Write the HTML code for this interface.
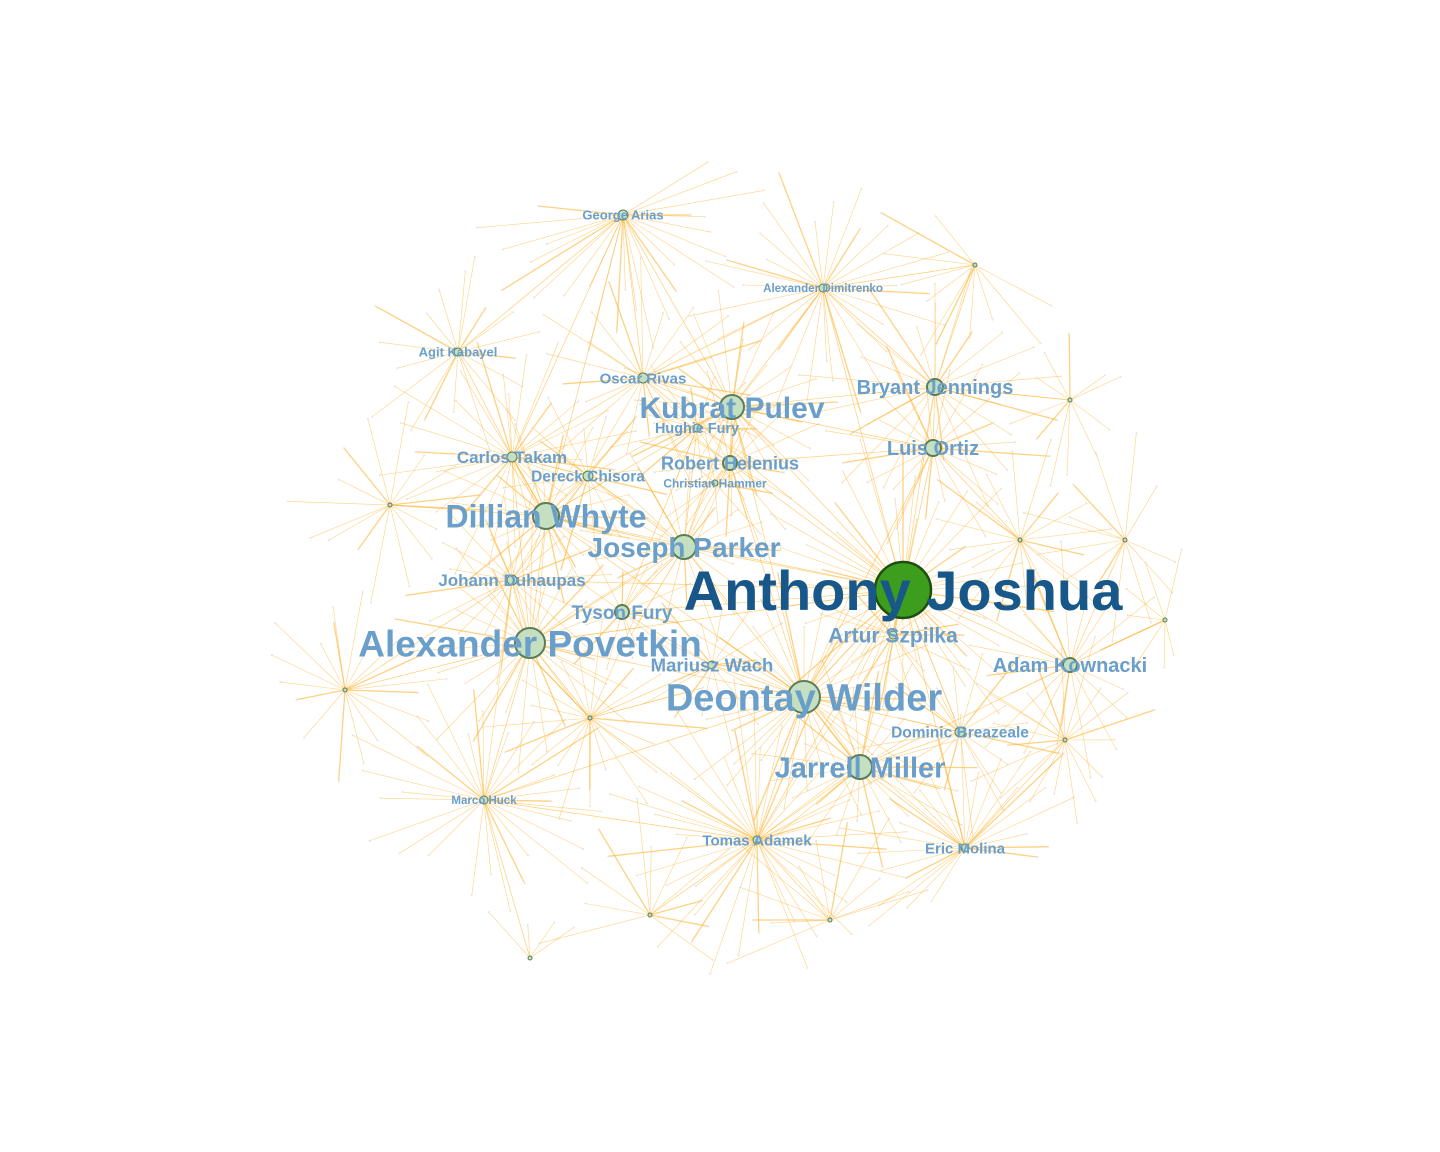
<!DOCTYPE html>
<html><head><meta charset="utf-8"><style>
html,body{margin:0;padding:0;background:#fff;width:1440px;height:1152px;overflow:hidden}
svg{display:block}
text{font-family:"Liberation Sans",sans-serif;font-weight:bold}
</style></head><body>
<svg id="net" width="1440" height="1152"></svg>
<script>
const nodeNames = ["George Arias","Alexander Dimitrenko","Agit Kabayel","Oscar Rivas","Kubrat Pulev","Bryant Jennings","Hughie Fury","Luis Ortiz","Carlos Takam","Robert Helenius","Dereck Chisora","Dillian Whyte","Joseph Parker","Johann Duhaupas","Anthony Joshua","Tyson Fury","Alexander Povetkin","Artur Szpilka","Mariusz Wach","Adam Kownacki","Deontay Wilder","Dominic Breazeale","Jarrell Miller","Marco Huck","Tomas Adamek","Eric Molina","Christian Hammer","","","","","","","","","","","",""];
const nodeX = [623,823,458,643,732,935,697,933,512,730,588,546,684,512,903,622,530,893,712,1070,804,960,860,484,757,965,715,1020,1125,345,590,1065,650,830,530,390,975,1070,1165];
const nodeY = [215,288,352,378,407,387,428,448,457,463,476,516,547,580,590,612,643,635,665,665,697,732,767,800,840,848,483,540,540,690,718,740,915,920,958,505,265,400,620];
const nodeRadius = [5,4,4,5,12,8,4,8,5,7,5,13,12,5,28,7,15,4,4,7,16,5,12,4,4,4,3,2,2,2,2,2,2,2,2,2,2,2,2];
const labelSize = [13,11.6,13,15,30,20,14.4,20,17,18,15.5,32,28,17,56,19,37,21,18.5,20,38,15.5,29,11.5,15,15,12,0,0,0,0,0,0,0,0,0,0,0,0];
const spokeCount = [40,30,18,22,26,24,14,22,30,20,18,26,24,22,40,14,30,16,16,22,36,18,26,34,44,36,10,18,16,22,24,22,16,20,10,16,18,14,12];
const spokeLen = [150,140,110,130,120,140,90,120,140,110,100,120,110,110,160,80,140,90,90,130,140,110,120,150,170,140,70,110,110,110,120,110,120,130,70,110,110,90,80];
const hubLinks = [[14,20],[14,12],[14,16],[14,11],[14,4],[14,22],[14,7],[14,5],[14,17],[14,19],[14,21],[14,9],[14,13],[14,15],[14,3],[14,1],[14,25],[14,24],
[20,16],[20,12],[20,22],[20,7],[20,21],[20,18],[20,24],[20,4],[20,11],[20,9],[20,23],[16,11],[16,12],[16,13],[16,23],[16,30],[16,29],[16,8],[11,8],[11,10],[11,12],[11,4],[11,0],[11,35],
[12,4],[12,15],[12,9],[12,10],[12,6],[4,9],[4,3],[4,0],[4,1],[4,7],[4,5],[8,2],[8,0],[8,3],[8,10],[7,5],[7,9],[7,27],[5,1],[5,36],[22,21],[22,25],[22,24],[22,19],[24,23],[24,30],[24,32],[25,31],[19,27],[19,28],[9,26],[10,13],[13,29],[3,0],[3,1],[1,36],[37,5],[38,19],[33,24],[34,23],[30,18],[2,0],[6,15],[17,21],[18,15]];
const svg = document.getElementById('net');
const NS = 'http://www.w3.org/2000/svg';
function mk(t,a){const e=document.createElementNS(NS,t);for(const k in a)e.setAttribute(k,a[k]);return e;}
const gEdges = mk('g',{});


svg.appendChild(gEdges);
for(let i=0;i<nodeX.length;i++){
  const n=spokeCount[i];
  for(let k=0;k<n;k++){
    const a=(k/n)*Math.PI*2+((i*37+k*53)%17)/17*0.3;
    const L=spokeLen[i]*(0.45+((i*13+k*29)%23)/23*0.55);
    const x2=nodeX[i]+Math.cos(a)*L, y2=nodeY[i]+Math.sin(a)*L;
    const dx=Math.hypot(x2-720,(y2-570)*1.15);
    if(dx>470) continue;
    const l=mk('line',{x1:nodeX[i],y1:nodeY[i],x2:x2,y2:y2,stroke:'#ffb22e','stroke-width':((k%5)==0?1.3:0.6),'stroke-opacity':0.6});
    
    
    gEdges.appendChild(l);
    const d=mk('circle',{cx:x2,cy:y2,r:1,fill:'#e4e4e4'});
    
    
    gEdges.appendChild(d);
  }
}
hubLinks.forEach(([a,b])=>{
  const l=mk('line',{x1:nodeX[a],y1:nodeY[a],x2:nodeX[b],y2:nodeY[b],stroke:'#ffb22e','stroke-width':0.7,'stroke-opacity':0.65});
  
  
  gEdges.appendChild(l);
});
const gNodes=mk('g',{});


svg.appendChild(gNodes);
for(let i=0;i<nodeX.length;i++){
  const main=i===14;
  const c=mk('circle',{cx:nodeX[i],cy:nodeY[i],r:nodeRadius[i],fill:main?'#3d9e1e':'#c4e0c0',stroke:main?'#1e4d12':'#5a7d5a','stroke-width':main?2.5:(nodeRadius[i]>6?2:1)});
  
  
  gNodes.appendChild(c);
}
for(let i=0;i<nodeX.length;i++){
  if(!labelSize[i]) continue;
  const main=i===14;
  const t=mk('text',{x:nodeX[i],y:nodeY[i]+labelSize[i]*0.36,'text-anchor':'middle','font-size':labelSize[i],fill:main?'#17578a':'#6a9fcb'});
  t.textContent=nodeNames[i];
  
  
  gNodes.appendChild(t);
}
</script>
</body></html>
